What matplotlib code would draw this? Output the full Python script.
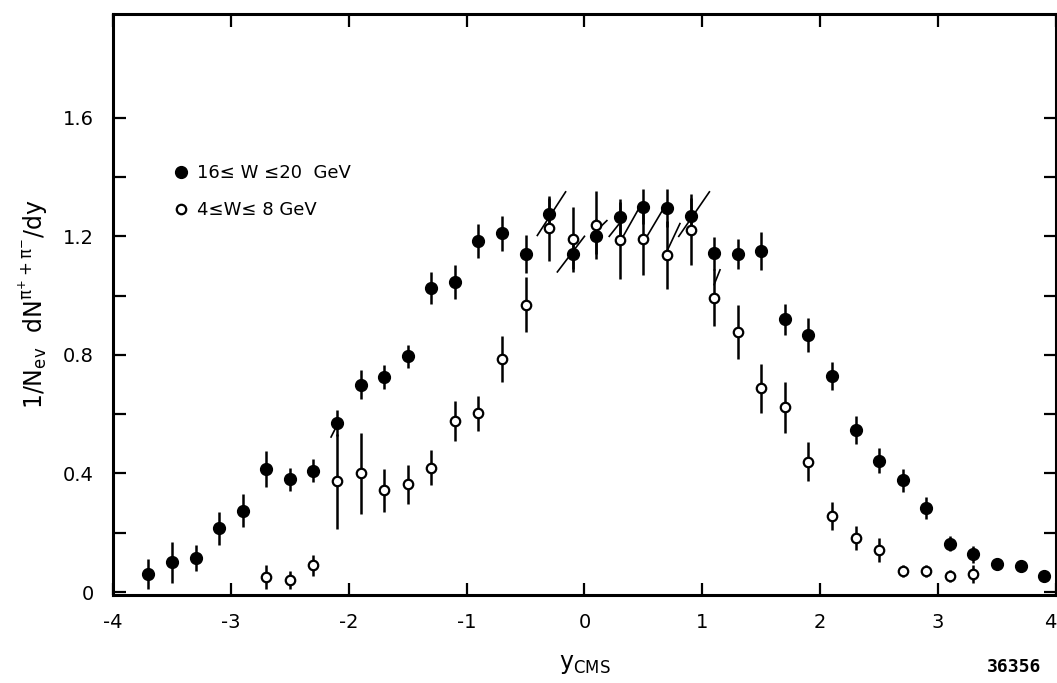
import matplotlib

matplotlib.use("Agg")
import matplotlib.pyplot as plt
from matplotlib.ticker import FixedLocator, FormatStrFormatter

plt.rcParams["axes.unicode_minus"] = False

# 16 <= W <= 20 GeV (filled circles)
y_high = [-3.7, -3.5, -3.3, -3.1, -2.9, -2.7, -2.5, -2.3, -2.1, -1.9,
          -1.7, -1.5, -1.3, -1.1, -0.9, -0.7, -0.5, -0.3, -0.1, 0.1,
          0.3, 0.5, 0.7, 0.9, 1.1, 1.3, 1.5, 1.7, 1.9, 2.1,
          2.3, 2.5, 2.7, 2.9, 3.1, 3.3, 3.5, 3.7, 3.9]
dn_high = [0.06, 0.10, 0.115, 0.215, 0.275, 0.415, 0.38, 0.41, 0.57, 0.70,
           0.725, 0.795, 1.025, 1.045, 1.185, 1.21, 1.14, 1.275, 1.14, 1.20,
           1.265, 1.30, 1.295, 1.27, 1.143, 1.14, 1.15, 0.92, 0.867, 0.73,
           0.547, 0.443, 0.377, 0.283, 0.163, 0.127, 0.093, 0.087, 0.053]
err_high = [0.05, 0.07, 0.045, 0.055, 0.055, 0.06, 0.04, 0.04, 0.045, 0.048,
            0.04, 0.04, 0.053, 0.057, 0.057, 0.06, 0.063, 0.053, 0.05, 0.06,
            0.06, 0.058, 0.065, 0.06, 0.055, 0.05, 0.063, 0.053, 0.057, 0.047,
            0.047, 0.042, 0.038, 0.037, 0.025, 0.03, 0.0, 0.0, 0.0]

# 4 <= W <= 8 GeV (open circles)
y_low = [-2.7, -2.5, -2.3, -2.1, -1.9, -1.7, -1.5, -1.3, -1.1, -0.9,
         -0.7, -0.5, -0.3, -0.1, 0.1, 0.3, 0.5, 0.7, 0.9, 1.1,
         1.3, 1.5, 1.7, 1.9, 2.1, 2.3, 2.5, 2.7, 2.9, 3.1, 3.3]
dn_low = [0.05, 0.04, 0.09, 0.373, 0.40, 0.343, 0.363, 0.42, 0.577, 0.603,
          0.787, 0.97, 1.227, 1.19, 1.237, 1.187, 1.19, 1.137, 1.223, 0.993,
          0.877, 0.687, 0.623, 0.44, 0.257, 0.183, 0.143, 0.07, 0.07, 0.053, 0.06]
err_low = [0.04, 0.03, 0.035, 0.16, 0.135, 0.073, 0.065, 0.06, 0.068, 0.06,
           0.078, 0.093, 0.11, 0.11, 0.115, 0.13, 0.12, 0.115, 0.12, 0.097,
           0.09, 0.083, 0.087, 0.067, 0.048, 0.04, 0.04, 0.02, 0.02, 0.02, 0.03]

# short slanted strokes drawn on the original plot (x0, y0, x1, y1)
slashes = [(-2.15, 0.523, -2.09, 0.57),
           (-0.40, 1.203, -0.16, 1.35),
           (-0.23, 1.08, 0.00, 1.20),
           (0.07, 1.207, 0.19, 1.253),
           (0.21, 1.20, 0.29, 1.24),
           (0.30, 1.18, 0.47, 1.30),
           (0.52, 1.193, 0.68, 1.30),
           (0.70, 1.15, 0.81, 1.243),
           (0.80, 1.20, 1.06, 1.35),
           (1.10, 1.037, 1.15, 1.087)]

x_ticks = [-4, -3, -2, -1, 0, 1, 2, 3, 4]
y_ticks = [0, 0.4, 0.8, 1.2, 1.6]
y_minor_ticks = [0.2, 0.6, 1.0, 1.4]

label_high = "16\u2264 W \u226420  GeV"
label_low = "4\u2264W\u2264 8 GeV"


def main() -> None:
    figure = plt.figure(figsize=(10.57, 6.83), dpi=100)
    ax = figure.add_axes([0.1069, 0.1288, 0.8921, 0.8507])

    ax.errorbar(y_high, dn_high, yerr=err_high, fmt="none",
                ecolor="black", elinewidth=1.8, capsize=0, zorder=2)
    ax.errorbar(y_low, dn_low, yerr=err_low, fmt="none",
                ecolor="black", elinewidth=1.8, capsize=0, zorder=2)
    ax.plot(y_high, dn_high, "o", color="black", markersize=8.5,
            linestyle="none", label=label_high, zorder=3)
    ax.plot(y_low, dn_low, "o", markerfacecolor="white",
            markeredgecolor="black", markeredgewidth=1.6, markersize=6.8,
            linestyle="none", label=label_low, zorder=3)

    for x0, y0, x1, y1 in slashes:
        ax.plot([x0, x1], [y0, y1], color="black", linewidth=1.2, zorder=2)

    ax.set_xlim(-4, 4)
    ax.set_ylim(-0.01, 1.95)

    ax.xaxis.set_major_locator(FixedLocator(x_ticks))
    ax.yaxis.set_major_locator(FixedLocator(y_ticks))
    ax.yaxis.set_minor_locator(FixedLocator(y_minor_ticks))
    ax.xaxis.set_major_formatter(FormatStrFormatter("%g"))
    ax.yaxis.set_major_formatter(FormatStrFormatter("%g"))

    ax.tick_params(axis="both", which="both", direction="in",
                   top=True, right=True, width=1.6, length=9, labelsize=14)
    ax.tick_params(axis="x", pad=13)
    ax.tick_params(axis="y", pad=14)

    # the last x label sits on the figure edge; keep it inside
    figure.canvas.draw()
    ax.get_xticklabels()[-1].set_horizontalalignment("right")

    for spine in ax.spines.values():
        spine.set_linewidth(2.2)

    ax.set_xlabel(r"$\mathrm{y_{CMS}}$", fontsize=17, labelpad=14)
    ax.set_ylabel(r"$\mathrm{1/N_{ev}\ \ dN^{\pi^{+}+\pi^{-}}/dy}$",
                  fontsize=17, labelpad=9)

    ax.legend(loc="upper left", bbox_to_anchor=(0.055, 0.757), frameon=False,
              fontsize=13, handlelength=0.8, handletextpad=0.5,
              labelspacing=1.05, borderpad=0, numpoints=1)

    figure.text(0.985, 0.01, "36356", ha="right", va="bottom",
                fontsize=13, fontweight="bold", family="DejaVu Sans Mono")

    figure.savefig("out.png", dpi=100)
    plt.close(figure)


if __name__ == "__main__":
    main()
